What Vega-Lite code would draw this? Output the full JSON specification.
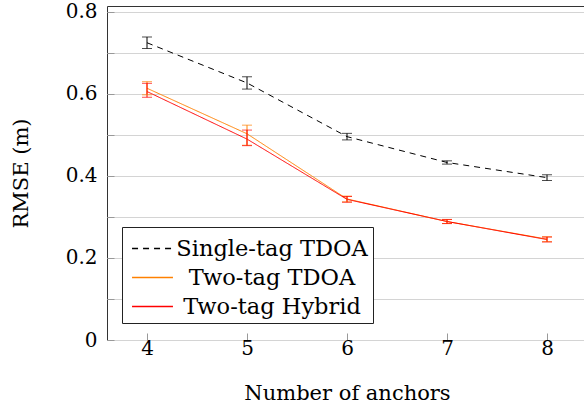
{
  "$schema": "https://vega.github.io/schema/vega-lite/v6.json",
  "width": 480,
  "height": 334,
  "autosize": {"type": "none"},
  "padding": {"left": 107, "top": 6, "right": 0, "bottom": 69},
  "background": "white",
  "config": {
    "view": {"stroke": "#333", "strokeWidth": 1},
    "font": "DejaVu Serif",
    "axis": {"labelColor": "black", "titleColor": "black", "titleFontWeight": "normal", "domain": false, "gridColor": "#d4d4d4", "gridWidth": 1, "gridOpacity": 1, "tickColor": "#999"}
  },
  "data": {"values": [
    {"n": 4, "series": "Single-tag TDOA", "rmse": 0.725, "lo": 0.711, "hi": 0.739},
    {"n": 5, "series": "Single-tag TDOA", "rmse": 0.627, "lo": 0.612, "hi": 0.642},
    {"n": 6, "series": "Single-tag TDOA", "rmse": 0.496, "lo": 0.488, "hi": 0.504},
    {"n": 7, "series": "Single-tag TDOA", "rmse": 0.433, "lo": 0.429, "hi": 0.437},
    {"n": 8, "series": "Single-tag TDOA", "rmse": 0.396, "lo": 0.389, "hi": 0.403},
    {"n": 4, "series": "Two-tag TDOA", "rmse": 0.614, "lo": 0.598, "hi": 0.630},
    {"n": 5, "series": "Two-tag TDOA", "rmse": 0.503, "lo": 0.475, "hi": 0.524},
    {"n": 6, "series": "Two-tag TDOA", "rmse": 0.344, "lo": 0.337, "hi": 0.351},
    {"n": 7, "series": "Two-tag TDOA", "rmse": 0.289, "lo": 0.284, "hi": 0.294},
    {"n": 8, "series": "Two-tag TDOA", "rmse": 0.246, "lo": 0.240, "hi": 0.252},
    {"n": 4, "series": "Two-tag Hybrid", "rmse": 0.606, "lo": 0.592, "hi": 0.626},
    {"n": 5, "series": "Two-tag Hybrid", "rmse": 0.490, "lo": 0.474, "hi": 0.512},
    {"n": 6, "series": "Two-tag Hybrid", "rmse": 0.343, "lo": 0.336, "hi": 0.350},
    {"n": 7, "series": "Two-tag Hybrid", "rmse": 0.289, "lo": 0.284, "hi": 0.294},
    {"n": 8, "series": "Two-tag Hybrid", "rmse": 0.245, "lo": 0.239, "hi": 0.251}
  ]},
  "encoding": {
    "x": {"field": "n", "type": "quantitative", "scale": {"domain": [3.6, 8.4], "nice": false, "zero": false},
      "axis": {"title": "Number of anchors", "values": [4, 5, 6, 7, 8], "grid": false, "tickSize": -7, "labelFont": "DejaVu Serif", "titleFont": "DejaVu Serif", "labelFontSize": 20, "labelPadding": 5, "titleFontSize": 21, "titlePadding": 24, "labelFlush": false}}
  },
  "layer": [
    {
      "mark": {"type": "line", "strokeWidth": 1, "clip": true},
      "encoding": {
        "y": {"field": "rmse", "type": "quantitative", "scale": {"domain": [0, 0.8146], "nice": false},
          "axis": {"title": "RMSE (m)", "values": [0, 0.1, 0.2, 0.3, 0.4, 0.5, 0.6, 0.7, 0.8], "labelExpr": "round(datum.value*10) % 2 == 0 ? datum.label : ''", "format": ".1~f", "tickSize": -7, "labelFont": "DejaVu Serif", "titleFont": "DejaVu Serif", "labelFontSize": 20, "labelPadding": 17, "titleFontSize": 21, "titlePadding": 34}},
        "color": {"field": "series", "type": "nominal",
          "scale": {"domain": ["Single-tag TDOA", "Two-tag TDOA", "Two-tag Hybrid"], "range": ["black", "#ff8000", "#ff0000"]},
          "legend": {"title": null, "orient": "none", "legendX": 15, "legendY": 221, "strokeColor": "#222", "fillColor": "white", "padding": 5,
            "symbolType": "M-1.32,0H1.32", "symbolSize": 961, "symbolStrokeWidth": 1.5, "symbolOffset": 9, "rowPadding": 1,
            "labelFont": "DejaVu Serif", "labelFontSize": 22.5, "labelColor": "black", "labelAlign": "center", "labelOffset": 103, "labelLimit": 400,
            "encode": {"symbols": {"update": {
              "strokeDash": {"signal": "datum.label == 'Single-tag TDOA' ? [6, 5] : []"},
              "stroke": {"signal": "datum.label == 'Single-tag TDOA' ? 'black' : datum.label == 'Two-tag TDOA' ? '#ff8000' : '#ff0000'"},
              "opacity": {"value": 1}, "strokeOpacity": {"value": 1}}}}}},
        "strokeDash": {"field": "series", "type": "nominal",
          "scale": {"domain": ["Single-tag TDOA", "Two-tag TDOA", "Two-tag Hybrid"], "range": [[6, 5], [1, 0], [1, 0]]},
          "legend": null}
      }
    },
    {
      "mark": {"type": "rule", "strokeWidth": 1},
      "encoding": {"y": {"field": "lo", "type": "quantitative"}, "y2": {"field": "hi"},
        "color": {"field": "series", "type": "nominal", "legend": null}}
    },
    {
      "mark": {"type": "tick", "orient": "horizontal", "size": 10, "thickness": 1},
      "encoding": {"y": {"field": "lo", "type": "quantitative"},
        "color": {"field": "series", "type": "nominal", "legend": null}}
    },
    {
      "mark": {"type": "tick", "orient": "horizontal", "size": 10, "thickness": 1},
      "encoding": {"y": {"field": "hi", "type": "quantitative"},
        "color": {"field": "series", "type": "nominal", "legend": null}}
    }
  ]
}
